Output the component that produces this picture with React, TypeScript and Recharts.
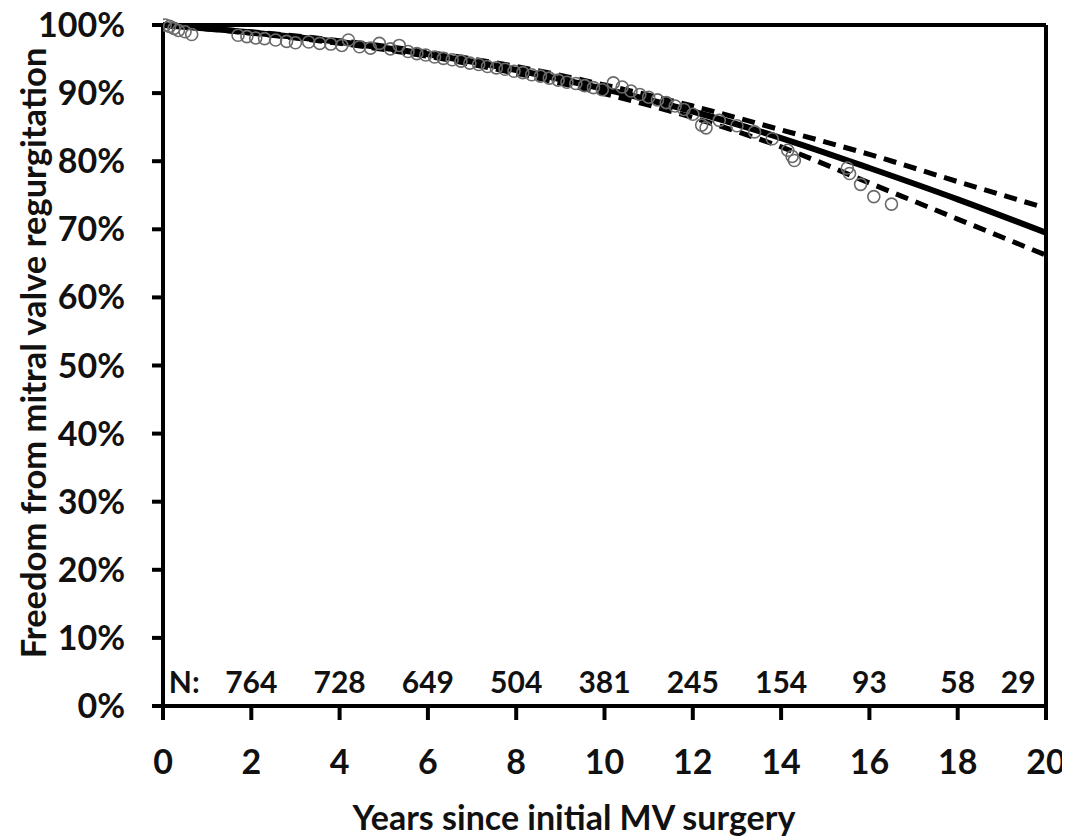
import { ComposedChart, Line, Scatter, XAxis, YAxis, ReferenceLine } from "recharts";

// fitted curve and 95% confidence band, read at 2-year steps
const years = [0, 2, 4, 6, 8, 10, 12, 14, 16, 18, 20];
const fitted = [100, 98.9, 97.5, 95.7, 93.4, 90.6, 87.3, 83.4, 79.0, 74.4, 69.5];
const upperCI = [100, 99.0, 97.7, 96.0, 93.9, 91.2, 88.1, 84.6, 81.0, 77.0, 73.1];
const lowerCI = [100, 98.8, 97.3, 95.4, 92.9, 89.9, 86.4, 82.1, 76.8, 71.5, 66.2];

// observed points (open circles)
const obsYears = [
  0.05, 0.15, 0.25, 0.35, 0.5, 0.65, 1.7, 1.9, 2.1, 2.3, 2.55, 2.8, 3.0, 3.3, 3.55, 3.8, 4.05, 4.2,
  4.45, 4.7, 4.9, 5.15, 5.35, 5.55, 5.75, 5.95, 6.15, 6.35, 6.55, 6.75, 6.95, 7.15, 7.35, 7.55,
  7.75, 7.95, 8.15, 8.35, 8.55, 8.75, 8.95, 9.15, 9.35, 9.55, 9.75, 9.95, 10.2, 10.4, 10.6, 10.8,
  11.0, 11.2, 11.4, 11.6, 11.8, 12.0, 12.2, 12.3, 12.6, 13.0, 13.4, 13.8, 14.15, 14.25, 14.3,
  15.5, 15.55, 15.8, 16.1, 16.5,
];
const obsPct = [
  100, 99.8, 99.5, 99.2, 99.0, 98.6, 98.5, 98.3, 98.1, 98.0, 97.8, 97.6, 97.4, 97.5, 97.3, 97.2, 97.0, 97.8,
  96.8, 96.6, 97.3, 96.5, 97.0, 96.1, 95.8, 95.6, 95.3, 95.1, 94.9, 94.7, 94.4, 94.2, 93.9, 93.7,
  93.5, 93.2, 93.0, 92.7, 92.5, 92.2, 91.9, 91.6, 91.4, 91.1, 90.8, 90.5, 91.5, 90.9, 90.3, 89.8,
  89.4, 89.0, 88.6, 88.1, 87.6, 86.9, 85.3, 84.9, 86.0, 85.2, 84.3, 83.3, 81.6, 80.7, 80.1,
  79.0, 78.2, 76.6, 74.8, 73.7,
];

// numbers at risk
const nYears = [0.48, 2, 4, 6, 8, 10, 12, 14, 16, 18, 19.37];
const nLabels = ["N:", "764", "728", "649", "504", "381", "245", "154", "93", "58", "29"];
const nRowPct = 3.6;

const xTicks = [0, 2, 4, 6, 8, 10, 12, 14, 16, 18, 20];
const yTicks = [0, 10, 20, 30, 40, 50, 60, 70, 80, 90, 100];

const FONT = "Lato, 'Noto Sans', sans-serif";

const fittedData = years.map((x, i) => ({ x, y: fitted[i] }));
const upperData = years.map((x, i) => ({ x, y: upperCI[i] }));
const lowerData = years.map((x, i) => ({ x, y: lowerCI[i] }));
const obsData = obsYears.map((x, i) => ({ x, y: obsPct[i] }));
const nData = nYears.map((x, i) => ({ x, y: nRowPct, label: nLabels[i] }));

const tickStyle = { fill: "#111", fontSize: 34, fontWeight: 700, fontFamily: FONT };

export default function App() {
  return (
    <div style={{ width: 1070, height: 839, marginLeft: -8, marginTop: -8, background: "#fff" }}>
      <ComposedChart width={1070} height={839} margin={{ top: 25, right: 24, left: 0, bottom: 0 }}>
        <XAxis
          type="number"
          dataKey="x"
          domain={[0, 20]}
          ticks={xTicks}
          allowDataOverflow
          height={133}
          stroke="#000"
          strokeWidth={4}
          tickSize={14}
          tickMargin={30}
          tick={tickStyle}
          tickLine={{ stroke: "#000", strokeWidth: 4 }}
          label={{
            content: () => (
              <text x={574} y={830} textAnchor="middle" fill="#111" fontSize={34} fontWeight={700} fontFamily={FONT}>
                Years since initial MV surgery
              </text>
            ),
          }}
        />
        <YAxis
          type="number"
          domain={[0, 100]}
          ticks={yTicks}
          width={163}
          stroke="#000"
          strokeWidth={4}
          tickSize={11}
          tickMargin={27}
          tick={tickStyle}
          tickLine={{ stroke: "#000", strokeWidth: 4 }}
          tickFormatter={(v) => `${v}%`}
          label={{
            content: () => (
              <text
                x={32}
                y={353}
                transform="rotate(-90 32 353)"
                textAnchor="middle"
                dominantBaseline="central"
                fill="#111"
                fontSize={34.5}
                fontWeight={700}
                fontFamily={FONT}
              >
                Freedom from mitral valve regurgitation
              </text>
            ),
          }}
        />
        <ReferenceLine y={100} stroke="#000" strokeWidth={4} />
        <ReferenceLine x={20} stroke="#000" strokeWidth={4} />
        <Line data={upperData} dataKey="y" type="monotone" stroke="#000" strokeWidth={5} strokeDasharray="13 8" dot={false} isAnimationActive={false} />
        <Line data={lowerData} dataKey="y" type="monotone" stroke="#000" strokeWidth={5} strokeDasharray="13 8" dot={false} isAnimationActive={false} />
        <Line data={fittedData} dataKey="y" type="monotone" stroke="#000" strokeWidth={6} dot={false} isAnimationActive={false} />
        <Scatter
          data={obsData}
          dataKey="y"
          isAnimationActive={false}
          shape={(p: any) => <circle cx={p.cx} cy={p.cy} r={6} fill="none" stroke="#6a6a6a" strokeWidth={1.6} />}
        />
        <Scatter
          data={nData}
          dataKey="y"
          isAnimationActive={false}
          shape={(p: any) => (
            <text x={p.cx} y={p.cy} textAnchor="middle" dominantBaseline="central" fill="#111" fontSize={30} fontWeight={700} fontFamily={FONT}>
              {p.payload.label}
            </text>
          )}
        />
      </ComposedChart>
    </div>
  );
}
